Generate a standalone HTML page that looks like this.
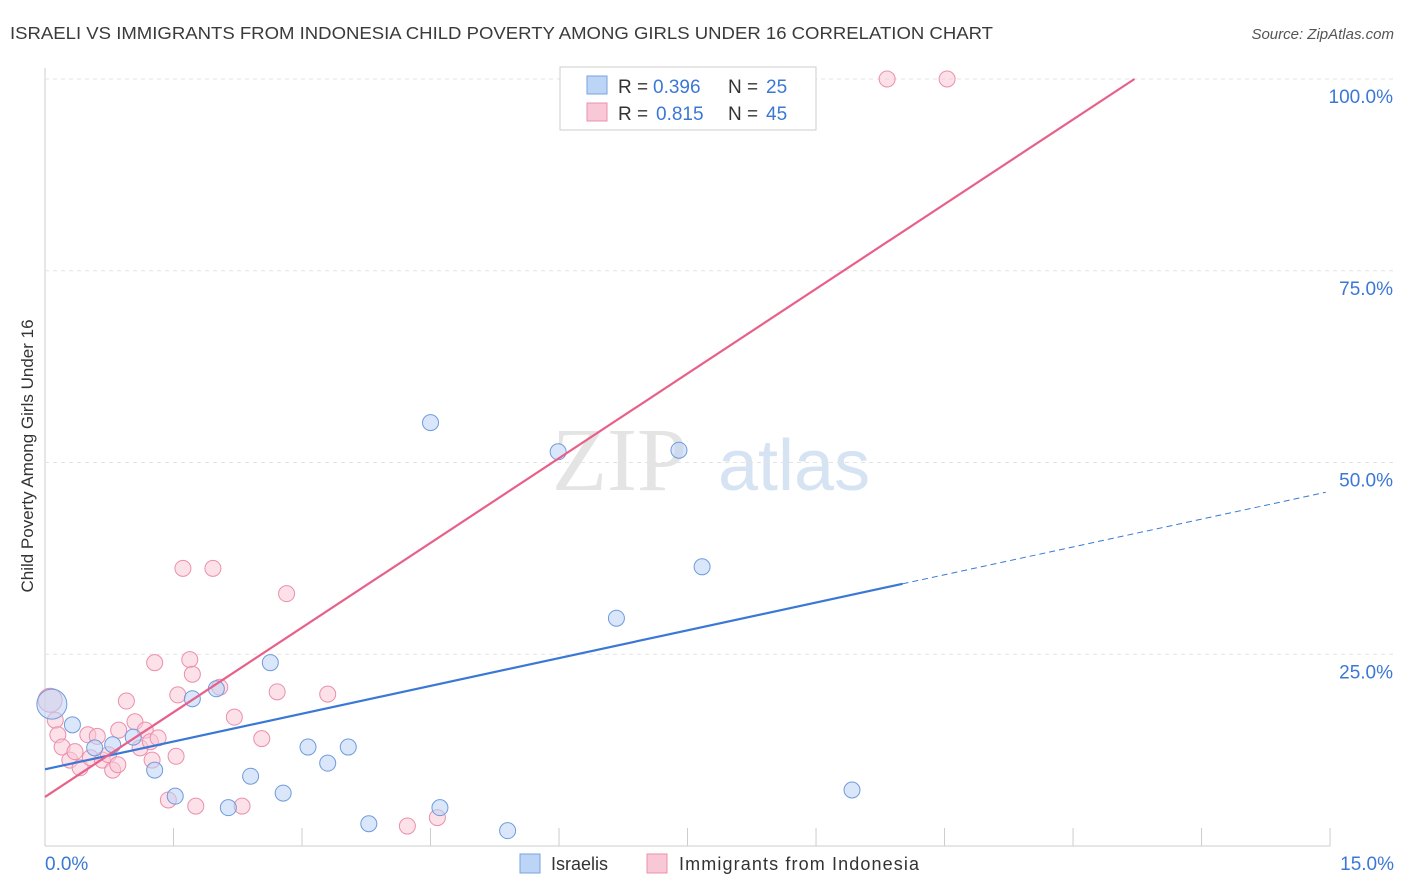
<!DOCTYPE html>
<html><head><meta charset="utf-8"><style>
body{margin:0;background:#fff;font-family:"Liberation Sans",sans-serif;}
svg{display:block}
</style></head><body>
<svg id="chart" width="1406" height="892">
<text x="10" y="39" font-size="17.5" fill="#3a3a3a" textLength="983" lengthAdjust="spacingAndGlyphs">ISRAELI VS IMMIGRANTS FROM INDONESIA CHILD POVERTY AMONG GIRLS UNDER 16 CORRELATION CHART</text>
<text x="1394" y="39" font-size="15" fill="#555" font-style="italic" text-anchor="end">Source: ZipAtlas.com</text>
<text x="0" y="0" transform="translate(33,456) rotate(-90)" font-size="17" fill="#333" text-anchor="middle">Child Poverty Among Girls Under 16</text>
<g>
<text x="552" y="490" font-size="90" fill="#e4e4e4" font-family="Liberation Serif,serif">ZIP</text>
<text x="718" y="490" font-size="72" fill="#d6e3f3">atlas</text>
</g>
<g id="grid"></g><g id="marks"></g>
<g>
<rect x="560" y="67" width="256" height="63" fill="#fff" stroke="#ccc"/>
<rect x="587" y="76" width="20" height="18" fill="#bcd4f5" stroke="#7aa3e0"/>
<rect x="587" y="103" width="20" height="18" fill="#f9c8d6" stroke="#ec8fab"/>
<text x="618" y="93" font-size="19" fill="#333">R =</text>
<text x="653" y="93" font-size="19" fill="#3b78d6">0.396</text>
<text x="728" y="93" font-size="19" fill="#333">N =</text>
<text x="766" y="93" font-size="19" fill="#3b78d6">25</text>
<text x="618" y="120" font-size="19" fill="#333">R =</text>
<text x="656" y="120" font-size="19" fill="#3b78d6">0.815</text>
<text x="728" y="120" font-size="19" fill="#333">N =</text>
<text x="766" y="120" font-size="19" fill="#3b78d6">45</text>
</g>
<g>
<rect x="520" y="854" width="20" height="19" fill="#bcd4f5" stroke="#7aa3e0"/>
<text x="551" y="870" font-size="18" fill="#333">Israelis</text>
<rect x="647" y="854" width="20" height="19" fill="#f9c8d6" stroke="#ec8fab"/>
<text x="679" y="870" font-size="18" fill="#333" textLength="240">Immigrants from Indonesia</text>
</g>
</svg>
<script>
const yTicks=[25,50,75,100];
const yTickLabels=["25.0%","50.0%","75.0%","100.0%"];
const xTickCount=10;
const blueX=[0.08,0.32,0.58,0.79,1.03,1.28,1.52,1.72,2.0,2.14,2.4,2.63,2.78,3.07,3.3,3.54,3.78,4.5,4.61,5.4,5.99,6.67,7.4,7.67,9.42];
const blueY=[18.5,15.8,12.8,13.2,14.2,9.9,6.5,19.2,20.5,5.0,9.1,23.9,6.9,12.9,10.8,12.9,2.9,55.2,5.0,2.0,51.4,29.7,51.6,36.4,7.3];
const pinkX=[9.83,10.53,0.06,0.12,0.15,0.2,0.29,0.35,0.41,0.53,0.5,0.61,0.67,0.74,0.79,0.85,0.86,0.95,1.05,1.11,1.17,1.23,1.32,1.28,1.25,1.44,1.53,1.55,1.61,1.69,1.72,1.76,1.96,2.04,2.21,2.3,2.53,2.71,2.82,3.3,4.23,4.58];
const pinkY=[100,100,19,16.4,14.5,12.9,11.2,12.3,10.2,11.5,14.5,14.3,11.2,11.9,9.9,10.6,15.1,18.9,16.2,12.8,15.1,13.6,14.1,23.9,11.2,6.0,11.7,19.7,36.2,24.3,22.4,5.2,36.2,20.7,16.8,5.2,14.0,20.1,32.9,19.8,2.6,3.7];
const blueLine=[10.0,2.416]; // intercept, slope
const pinkLine=[6.4,7.36];
const NS="http://www.w3.org/2000/svg";
const X=v=>45+v*85.67, Y=v=>846-v*7.67;
const g=document.getElementById('grid'), m=document.getElementById('marks');
function el(t,a,p){const e=document.createElementNS(NS,t);for(const k in a)e.setAttribute(k,a[k]);p.appendChild(e);return e;}
const ax=el('line',{x1:45,y1:68,x2:45,y2:846,stroke:'#ccc'},g);


const bx=el('line',{x1:45,y1:846,x2:1330,y2:846,stroke:'#ccc'},g);


yTicks.forEach((v,i)=>{
 const l=el('line',{x1:45,x2:1394,y1:Y(v),y2:Y(v),stroke:'#e3e3e3','stroke-dasharray':'4,4'},g);
 
 
 const t=el('text',{x:1393,y:Y(v)+24,'font-size':19,fill:'#3b78d6','text-anchor':'end'},g);
 t.textContent=yTickLabels[i];
 
 
});
for(let i=1;i<=xTickCount;i++){
 const x=X(i*1.5);
 const l=el('line',{x1:x,x2:x,y1:828,y2:846,stroke:'#ccc'},g);
 
 
}
const t0=el('text',{x:45,y:870,'font-size':19,fill:'#3b78d6'},g);t0.textContent='0.0%';


const t1=el('text',{x:1394,y:870,'font-size':19,fill:'#3b78d6','text-anchor':'end'},g);t1.textContent='15.0%';


function dot(x,y,r,f,s,name){const c=el('circle',{cx:X(x),cy:Y(y),r:r,fill:f,'fill-opacity':0.55,stroke:s,'stroke-width':1},m);
 
 }
pinkX.forEach((x,i)=>dot(x,pinkY[i],i==2?12:8,'#f9c8d6','#eb8fac','point-indonesia'));
blueX.forEach((x,i)=>dot(x,blueY[i],i==0?15:8,'#bcd4f5','#6f9bdc','point-israelis'));
let l=el('line',{x1:X(0),y1:Y(blueLine[0]),x2:X(10.01),y2:Y(blueLine[0]+blueLine[1]*10.01),stroke:'#3b78d6','stroke-width':2.2},m);


l=el('line',{x1:X(10.01),y1:Y(blueLine[0]+blueLine[1]*10.01),x2:X(14.95),y2:Y(blueLine[0]+blueLine[1]*14.95),stroke:'#3b78d6','stroke-width':1,'stroke-dasharray':'6,4'},m);


const pe=(100-pinkLine[0])/pinkLine[1];
l=el('line',{x1:X(0),y1:Y(pinkLine[0]),x2:X(pe),y2:Y(100),stroke:'#e8608a','stroke-width':2.2},m);


</script>
</body></html>
